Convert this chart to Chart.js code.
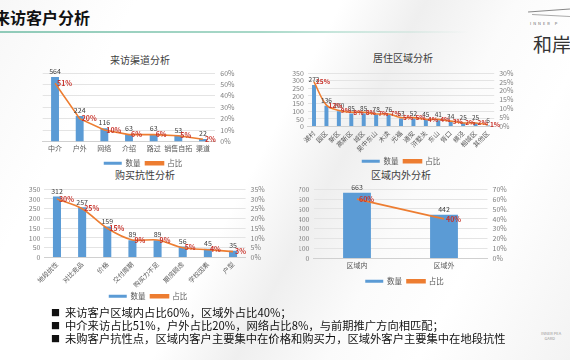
<!DOCTYPE html>
<html><head><meta charset="utf-8">
<script src="https://cdn.jsdelivr.net/npm/chart.js@4.4.1/dist/chart.umd.min.js"></script>
<style>
html,body{margin:0;padding:0;}
body{width:570px;height:360px;overflow:hidden;position:relative;font-family:"Noto Sans CJK SC","Noto Sans",sans-serif;
background:linear-gradient(118deg,#f7f7f7 0%,#ffffff 18%,#ffffff 45%,#efefef 56%,#fbfbfb 68%,#ffffff 80%,#f3f3f3 100%);}
.abs{position:absolute;}
canvas{position:absolute;}
.ttl{position:absolute;font-size:10px;color:#404040;white-space:nowrap;transform:translateX(-50%);line-height:12px;}
#head{left:-6px;top:5px;font-size:16px;font-weight:bold;color:#111;white-space:nowrap;}
#hline{left:0;top:31px;width:470px;height:2px;background:linear-gradient(90deg,#8fcab8 0%,#a8d8c8 55%,rgba(200,230,220,0) 100%);}
.bul{position:absolute;left:51px;font-size:11.3px;color:#111;white-space:nowrap;line-height:13px;}
.bul span{font-size:9px;margin-right:5px;position:relative;top:-1px;}
</style></head>
<body>
<div id="head" class="abs">来访客户分析</div>
<div id="hline" class="abs"></div>
<div class="abs" style="left:528px;top:10px;width:42px;height:1px;background:#888;transform:rotate(-4deg);"></div>
<div class="abs" style="left:532px;top:15px;width:38px;height:1px;background:#aaa;transform:rotate(3deg);"></div>
<div class="abs" style="left:530px;top:20px;font-size:4px;color:#666;letter-spacing:2px;white-space:nowrap;">INNER P</div>
<div class="abs" style="left:533px;top:30px;font-size:19px;color:#333;white-space:nowrap;">和岸</div>
<div class="abs" style="left:541px;top:331px;font-size:4px;color:#999;line-height:5px;white-space:nowrap;">INNER PEA<br>&nbsp;&nbsp;&nbsp;&nbsp;GARD</div>

<div class="ttl" style="left:140px;top:54px;">来访渠道分析</div>
<div class="ttl" style="left:403px;top:52px;">居住区域分析</div>
<div class="ttl" style="left:145px;top:169px;">购买抗性分析</div>
<div class="ttl" style="left:401px;top:169px;">区域内外分析</div>

<canvas id="c1" width="230" height="115" style="left:20px;top:62px;"></canvas>
<canvas id="c2" width="250" height="112" style="left:280px;top:63px;"></canvas>
<canvas id="c3" width="250" height="130" style="left:20px;top:180px;"></canvas>
<canvas id="c4" width="220" height="115" style="left:295px;top:180px;"></canvas>

<div class="bul" style="top:306px;"><span>■</span>来访客户区域内占比60%，区域外占比40%；</div>
<div class="bul" style="top:319px;"><span>■</span>中介来访占比51%，户外占比20%，网络占比8%，与前期推广方向相匹配；</div>
<div class="bul" style="top:332px;"><span>■</span>未购客户抗性点，区域内客户主要集中在价格和购买力，区域外客户主要集中在地段抗性</div>

<script>
// ---- data ----
const channelCats = ['中介','户外','网络','介绍','路过','销售自拓','渠道'];
const channelCounts = [564,224,116,63,63,53,22];
const channelPct = [51,20,10,6,6,5,2];

const areaCats = ['湖村','园区','新区','高新区','城区','吴中东山','木渎','光福','通安','浒墅关','东山','胥口','横泾','相城区','其他区'];
const areaCounts = [272,136,100,85,85,78,76,53,52,45,41,34,25,25,6];
const areaPct = [25,12,9,8,8,7,7,5,5,4,4,3,2,2,1];

const resistCats = ['地段抗性','对比竞品','价格','交付周期','购买力不足','期房顾虑','学校因素','户型'];
const resistCounts = [312,257,159,89,89,56,45,35];
const resistPct = [30,25,15,9,9,5,4,3];

const zoneCats = ['区域内','区域外'];
const zoneCounts = [663,442];
const zonePct = [60,40];

const legendNames = ['数量','占比'];

// ---- styles ----
const BLUE = '#5B9BD5', ORANGE = '#ED7D31', RED = '#C8322A';
const FONT = '"Noto Sans CJK SC","Noto Sans",sans-serif';

const labelPlugin = {
  id: 'vlabels',
  afterDatasetsDraw(chart, args, opts) {
    const ctx = chart.ctx;
    const bm = chart.getDatasetMeta(0), lm = chart.getDatasetMeta(1);
    ctx.save();
    ctx.font = (opts.vsize || 7) + 'px ' + FONT;
    ctx.fillStyle = '#404040'; ctx.textAlign = 'center'; ctx.textBaseline = 'bottom';
    bm.data.forEach((el, i) => ctx.fillText(String(chart.data.datasets[0].data[i]), el.x, el.y - 2));
    ctx.font = 'bold ' + (opts.psize || 7) + 'px ' + FONT;
    ctx.fillStyle = RED; ctx.textAlign = 'left'; ctx.textBaseline = 'middle';
    lm.data.forEach((el, i) => ctx.fillText(chart.data.datasets[1].data[i] + '%', el.x + 2, el.y));
    ctx.restore();
  }
};

function fixW(w){ return s => { s.width = w; }; }
function fixH(h){ return s => { s.height = h; }; }

function makeChart(id, o) {
  return new Chart(document.getElementById(id), {
    data: {
      labels: o.cats,
      datasets: [
        { type: 'bar', label: legendNames[0], data: o.counts, backgroundColor: BLUE, borderWidth: 0,
          categoryPercentage: 1, barPercentage: o.barPct || 0.32, yAxisID: 'y', order: 2 },
        { type: 'line', label: legendNames[1], data: o.pct, borderColor: ORANGE, backgroundColor: ORANGE,
          borderWidth: 1.6, pointRadius: 0, tension: o.tension || 0, yAxisID: 'y1', order: 1 }
      ]
    },
    options: {
      responsive: false, animation: false,
      layout: { padding: o.pad },
      plugins: {
        legend: { position: 'bottom', labels: { boxWidth: 18, boxHeight: 3, font: { size: 7.5, family: FONT }, color: '#595959', padding: 5,
                  sort: (a, b) => a.datasetIndex - b.datasetIndex } },
        tooltip: { enabled: false },
        vlabels: { vsize: o.vsize, psize: o.psize }
      },
      scales: {
        x: {
          grid: { display: false, drawTicks: false }, border: { color: '#d0d0d0' },
          ticks: { font: { size: o.xsize || 7, family: FONT }, color: '#595959', autoSkip: false,
                   maxRotation: o.rot || 0, minRotation: o.rot || 0, padding: 3 },
          afterFit: fixH(o.xh)
        },
        y: {
          display: o.leftShow !== false, min: 0, max: o.lmax,
          ticks: { stepSize: o.lstep, autoSkip: false, font: { size: 7, family: FONT }, color: '#7f7f7f', padding: 4 },
          grid: { display: o.leftShow !== false, color: '#e4e4e4', drawTicks: false }, border: { display: false },
          afterFit: fixW(o.lw || 0)
        },
        y1: {
          position: 'right', min: 0, max: o.rmax,
          ticks: { stepSize: o.rstep, autoSkip: false, font: { size: 7, family: FONT }, color: '#7f7f7f', padding: 5, callback: v => v + '%' },
          grid: { display: o.leftShow === false, color: '#e4e4e4', drawTicks: false }, border: { display: false },
          afterFit: fixW(o.rw)
        }
      }
    },
    plugins: [labelPlugin]
  });
}

makeChart('c1', { cats: channelCats, counts: channelCounts, pct: channelPct,
  lmax: 600, lstep: 100, rmax: 60, rstep: 10, leftShow: false, rw: 28, xh: 13, xsize: 7,
  pad: { left: 22.7, right: 6.7, top: 11, bottom: 0 }, vsize: 7, psize: 7 });

makeChart('c2', { cats: areaCats, counts: areaCounts, pct: areaPct,
  lmax: 350, lstep: 50, rmax: 30, rstep: 5, lw: 24, rw: 24, xh: 26, rot: 45, xsize: 6.5, tension: 0.35,
  pad: { left: 3.8, right: 11.8, top: 10, bottom: 0 }, vsize: 6.5, psize: 6.5 });

makeChart('c3', { cats: resistCats, counts: resistCounts, pct: resistPct,
  lmax: 350, lstep: 50, rmax: 35, rstep: 5, lw: 16, rw: 22, xh: 30, rot: 45, xsize: 6.5, tension: 0.3,
  pad: { left: 8.4, right: 2.4, top: 9, bottom: 0 }, vsize: 7, psize: 7 });

makeChart('c4', { cats: zoneCats, counts: zoneCounts, pct: zonePct,
  lmax: 700, lstep: 100, rmax: 70, rstep: 10, lw: 14, rw: 22, xh: 14, xsize: 7,
  pad: { left: 4.5, right: 5.5, top: 9, bottom: 0 }, vsize: 7, psize: 7 });
</script>
</body></html>
